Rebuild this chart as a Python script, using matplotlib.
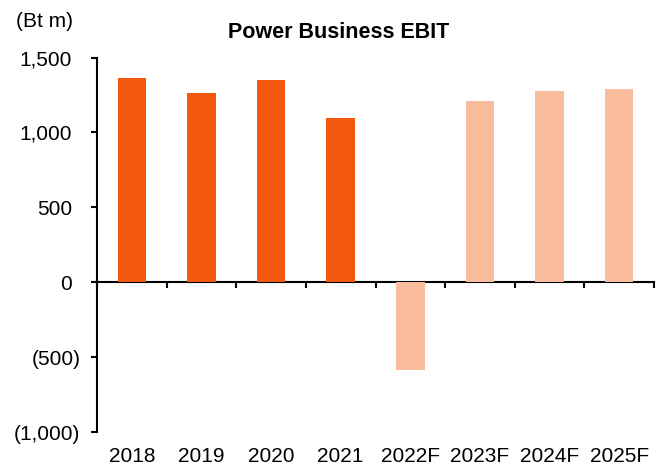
import matplotlib
matplotlib.use("Agg")
import matplotlib.pyplot as plt
import matplotlib.transforms as mtransforms
import numpy as np

plt.rcParams['font.family'] = ['Liberation Sans', 'DejaVu Sans']

categories = ["2018", "2019", "2020", "2021", "2022F", "2023F", "2024F", "2025F"]
ebit = [1362, 1260, 1349, 1095, -589, 1209, 1278, 1289]
forecast = [False, False, False, False, True, True, True, True]
yticks = [-1000, -500, 0, 500, 1000, 1500]
ytick_labels = ["(1,000)", "(500)", "0", "500", "1,000", "1,500"]

dark = "#F4580F"
light = "#F9BC9C"

fig = plt.figure(figsize=(6.67, 4.68), dpi=100)
ax = fig.add_axes([97/667, 1-432/468, (654-97)/667, (432-57.5)/468])

x = np.arange(len(categories))
colors = [light if f else dark for f in forecast]
ax.bar(x, ebit, width=0.41, color=colors, zorder=2)

ax.set_xlim(-0.5, len(categories) - 0.5)
ax.set_ylim(-1000, 1500)
ax.set_yticks(yticks)
ax.set_yticklabels([])
ax.tick_params(axis='y', direction='out', length=4.5, width=1.5)

# y tick labels: negative (parenthesised) labels sit further right, like Excel's format
for v, lab in zip(yticks, ytick_labels):
    off = -12 if v < 0 else -18
    tr = mtransforms.offset_copy(ax.get_yaxis_transform(), fig=fig, x=off, y=0, units='points')
    ax.text(0, v, lab, transform=tr, ha='right', va='center_baseline', fontsize=15)

for s in ['top', 'right', 'bottom']:
    ax.spines[s].set_visible(False)
ax.spines['left'].set_linewidth(1.5)

ax.set_xticks(x)
ax.set_xticklabels(categories)
ax.tick_params(axis='x', length=0, labelsize=15, pad=10.5)

# zero axis line with category boundary ticks
zero_frac = (0 - (-1000)) / (1500 - (-1000))
sec = ax.secondary_xaxis(zero_frac)
sec.set_xticks(np.arange(-0.5, len(categories), 1.0))
sec.set_xticklabels([])
sec.tick_params(axis='x', direction='out', length=4.5, width=1.5)
sec.spines['bottom'].set_linewidth(1.5)

fig.text(339/667, 1-32/468, "Power Business EBIT", ha='center', va='center',
         fontsize=15.5, fontweight='bold')
fig.text(16/667, 1-21.5/468, "(Bt m)", ha='left', va='center', fontsize=15)

fig.savefig("out.png", dpi=100)
